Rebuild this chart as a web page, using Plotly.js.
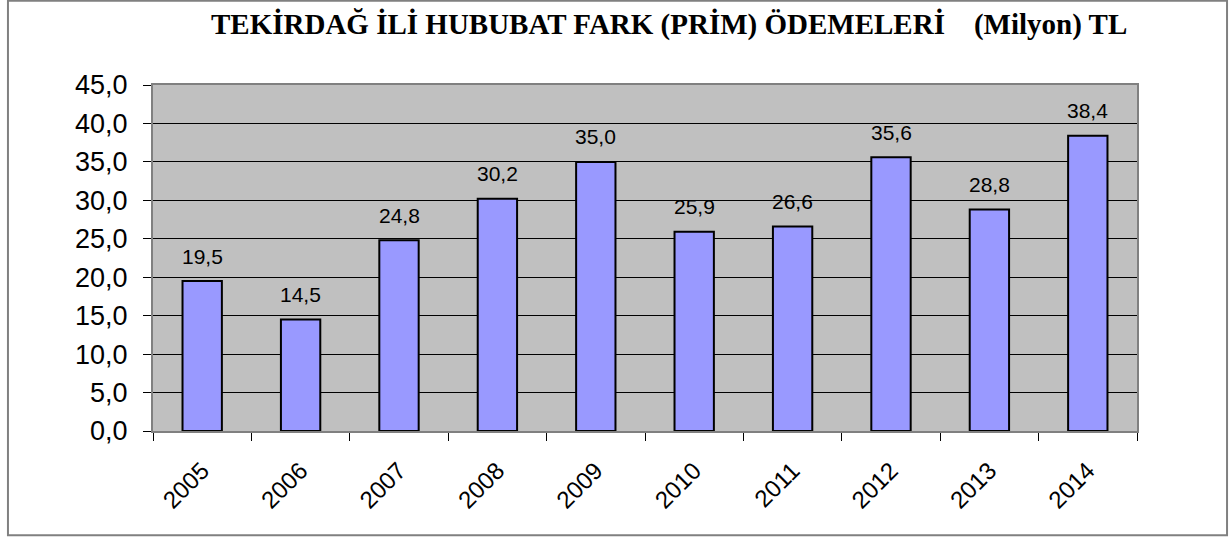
<!DOCTYPE html>
<html><head><meta charset="utf-8">
<script src="https://cdn.plot.ly/plotly-3.0.1.min.js"></script>
<style>html,body{margin:0;padding:0;background:#fff;}#c{width:1229px;height:537px;}</style>
</head><body><div id="c"></div>
<script>
const years = ['2005','2006','2007','2008','2009','2010','2011','2012','2013','2014'];
const values = [19.5, 14.5, 24.8, 30.2, 35.0, 25.9, 26.6, 35.6, 28.8, 38.4];
const titleText = 'TEKİRDAĞ İLİ HUBUBAT FARK (PRİM) ÖDEMELERİ    (Milyon) TL';

const fmt = v => v.toFixed(1).replace('.', ',');

const trace = {
  type: 'bar', x: years, y: values,
  marker: {color: '#9999ff', line: {color: '#000', width: 2}},
  hoverinfo: 'none'
};

const annotations = years.map((y, i) => ({
  x: i, y: values[i], xref: 'x', yref: 'y', text: fmt(values[i]),
  showarrow: false, yshift: 25,
  font: {family: 'Liberation Sans, Arial', size: 21, color: '#000'}
}));
annotations.push({
  xref: 'paper', yref: 'paper', x: 0.524, y: 1.175, xanchor: 'center', yanchor: 'middle',
  text: titleText.replace(/ {2,}/g, m => '&nbsp;'.repeat(m.length)), showarrow: false,
  font: {family: 'Liberation Serif, Times New Roman', size: 29, color: '#000', weight: 'bold'}
});

const layout = {
  width: 1229, height: 537,
  margin: {l: 153, r: 92, t: 84.5, b: 105.5},
  paper_bgcolor: '#fff', plot_bgcolor: '#c0c0c0',
  separators: ',.',
  showlegend: false,
  bargap: 0.6,
  xaxis: {
    type: 'category', range: [-0.5, 9.5], autorange: false,
    tickson: 'boundaries', ticks: 'outside', ticklen: 8, tickcolor: '#000',
    tickangle: -45, showline: true, linecolor: '#808080', linewidth: 2, mirror: true,
    showgrid: false, ticklabelstandoff: 14,
    tickfont: {family: 'Liberation Sans, Arial', size: 24, color: '#000'}
  },
  yaxis: {
    range: [0, 45], autorange: false, dtick: 5, tickformat: '.1f', ticks: 'outside', ticklen: 8, tickcolor: '#000',
    showline: true, linecolor: '#808080', linewidth: 2, mirror: true,
    showgrid: true, gridcolor: '#000', gridwidth: 1, zeroline: false, ticklabelstandoff: 10,
    tickfont: {family: 'Liberation Sans, Arial', size: 27, color: '#000'}
  },
  annotations: annotations,
  shapes: [{
    type: 'rect', xref: 'paper', yref: 'paper',
    x0: -0.1474, x1: 1.0915, y0: -0.301, y1: 1.2435,
    line: {color: '#808080', width: 2}
  }]
};

Plotly.newPlot('c', [trace], layout, {displayModeBar: false, staticPlot: true});
</script></body></html>
